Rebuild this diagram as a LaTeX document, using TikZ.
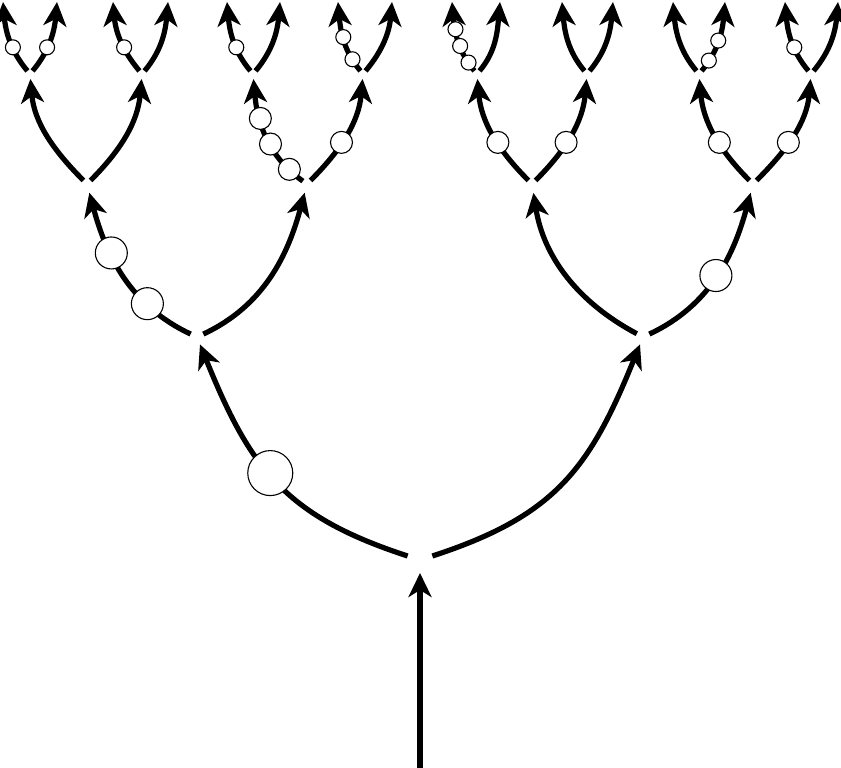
\documentclass[tikz,border=0pt]{standalone}
\usetikzlibrary{arrows.meta}
\begin{document}
\begin{tikzpicture}[x=1pt,y=1pt,
  edge/.style={line width=5.2pt, -{Stealth[length=24pt,width=23pt,inset=7pt]}},
  blob/.style={circle, draw, fill=white, line width=1.1pt, inner sep=0pt},
  blobA/.style={blob, minimum size=45pt},
  blobB/.style={blob, minimum size=32pt},
  blobC/.style={blob, minimum size=22pt},
  blobD/.style={blob, minimum size=15pt},
  lzl/.style={out=162,in=-68,looseness=1.15}, lzr/.style={out=18,in=-112,looseness=1.15},
  lol/.style={out=155,in=-75}, lor/.style={out=25,in=-105},
  ltl/.style={out=135,in=-85}, ltr/.style={out=45,in=-95},
  lhl/.style={out=130,in=-85}, lhr/.style={out=50,in=-95},
  s0/.style={shorten <=13pt, shorten >=8pt},
  s1/.style={shorten <=7pt, shorten >=9pt},
  s2/.style={shorten <=5pt, shorten >=5pt},
  s3/.style={shorten <=4pt}]
\useasboundingbox (0,0) rectangle (841,-768);
% vertices
\coordinate (root) at (420,-768);
\coordinate (v0) at (420,-560);
\coordinate (v1l) at (197,-337);
\coordinate (v1r) at (643,-337);
\coordinate (v2a) at (87,-184);
\coordinate (v2b) at (307,-184);
\coordinate (v2c) at (532,-184);
\coordinate (v2d) at (753,-184);
\coordinate (v3a) at (30,-74);
\coordinate (v3b) at (142,-74);
\coordinate (v3c) at (253,-74);
\coordinate (v3d) at (363,-74);
\coordinate (v3e) at (477,-74);
\coordinate (v3f) at (587,-74);
\coordinate (v3g) at (699,-74);
\coordinate (v3h) at (811,-74);
\coordinate (t1) at (3,-2);
\coordinate (t2) at (57,-2);
\coordinate (t3) at (113,-2);
\coordinate (t4) at (168,-2);
\coordinate (t5) at (227,-2);
\coordinate (t6) at (280,-2);
\coordinate (t7) at (338,-2);
\coordinate (t8) at (392,-2);
\coordinate (t9) at (452,-2);
\coordinate (t10) at (500,-2);
\coordinate (t11) at (562,-2);
\coordinate (t12) at (613,-2);
\coordinate (t13) at (673,-2);
\coordinate (t14) at (725,-2);
\coordinate (t15) at (785,-2);
\coordinate (t16) at (838,-2);
% stem
\draw[edge, shorten >=13pt] (root) -- (v0);
% level 0
\draw[edge,s0] (v0) to[lzl] node[blobA,pos=0.54]{} (v1l);
\draw[edge,s0] (v0) to[lzr] (v1r);
% level 1
\draw[edge,s1] (v1l) to[lol] node[blobB,pos=0.3]{} node[blobB,pos=0.64]{} (v2a);
\draw[edge,s1] (v1l) to[lor] (v2b);
\draw[edge,s1] (v1r) to[out=152,in=-81] (v2c);
\draw[edge,s1] (v1r) to[lor] node[blobB,pos=0.5]{} (v2d);
% level 2
\draw[edge,s2] (v2a) to[ltl] (v3a);
\draw[edge,s2] (v2a) to[ltr] (v3b);
\draw[edge,s2] (v2b) to[out=145,in=-85] node[blobC,pos=0.17]{} node[blobC,pos=0.43]{} node[blobC,pos=0.66]{} (v3c);
\draw[edge,s2] (v2b) to[ltr] node[blobC,pos=0.42]{} (v3d);
\draw[edge,s2] (v2c) to[ltl] node[blobC,pos=0.42]{} (v3e);
\draw[edge,s2] (v2c) to[ltr] node[blobC,pos=0.42]{} (v3f);
\draw[edge,s2] (v2d) to[ltl] node[blobC,pos=0.42]{} (v3g);
\draw[edge,s2] (v2d) to[ltr] node[blobC,pos=0.42]{} (v3h);
% level 3
\draw[edge,s3] (v3a) to[lhl] node[blobD,pos=0.4]{} (t1);
\draw[edge,s3] (v3a) to[lhr] node[blobD,pos=0.4]{} (t2);
\draw[edge,s3] (v3b) to[lhl] node[blobD,pos=0.4]{} (t3);
\draw[edge,s3] (v3b) to[lhr] (t4);
\draw[edge,s3] (v3c) to[lhl] node[blobD,pos=0.4]{} (t5);
\draw[edge,s3] (v3c) to[lhr] (t6);
\draw[edge,s3] (v3d) to[lhl] node[blobD,pos=0.22]{} node[blobD,pos=0.55]{} (t7);
\draw[edge,s3] (v3d) to[lhr] (t8);
\draw[edge,s3] (v3e) to[lhl] node[blobD,pos=0.17]{} node[blobD,pos=0.42]{} node[blobD,pos=0.66]{} (t9);
\draw[edge,s3] (v3e) to[lhr] (t10);
\draw[edge,s3] (v3f) to[lhl] (t11);
\draw[edge,s3] (v3f) to[lhr] (t12);
\draw[edge,s3] (v3g) to[lhl] (t13);
\draw[edge,s3] (v3g) to[lhr] node[blobD,pos=0.2]{} node[blobD,pos=0.5]{} (t14);
\draw[edge,s3] (v3h) to[lhl] node[blobD,pos=0.4]{} (t15);
\draw[edge,s3] (v3h) to[lhr] (t16);
\end{tikzpicture}
\end{document}
